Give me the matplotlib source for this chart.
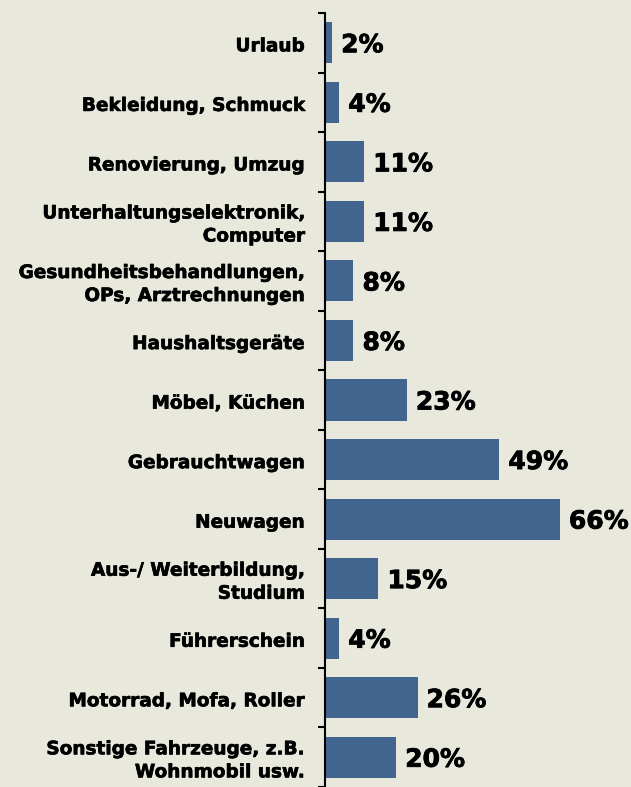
import matplotlib
matplotlib.use("Agg")
import matplotlib.pyplot as plt
import matplotlib.patheffects as pe
import numpy as np

categories = [
    "Urlaub",
    "Bekleidung, Schmuck",
    "Renovierung, Umzug",
    "Unterhaltungselektronik,\nComputer",
    "Gesundheitsbehandlungen,\nOPs, Arztrechnungen",
    "Haushaltsgeräte",
    "Möbel, Küchen",
    "Gebrauchtwagen",
    "Neuwagen",
    "Aus-/ Weiterbildung,\nStudium",
    "Führerschein",
    "Motorrad, Mofa, Roller",
    "Sonstige Fahrzeuge, z.B.\nWohnmobil usw.",
]
values = [2, 4, 11, 11, 8, 8, 23, 49, 66, 15, 4, 26, 20]
value_labels = [f"{v}%" for v in values]

bg = "#e9e8dd"
bar_color = "#42658f"

fig = plt.figure(figsize=(6.31, 7.87), dpi=100, facecolor=bg)
ax = fig.add_axes([325 / 631, 0.0, 1 - 325 / 631, 1 - 13 / 787])
ax.set_facecolor(bg)

y = np.arange(len(categories))
ax.barh(y, values, height=0.69, color=bar_color)
ax.set_ylim(len(categories) - 0.5, -0.5)
ax.set_xlim(0, 86)

heavy_val = [pe.withStroke(linewidth=0.6, foreground="black")]
heavy_cat = [pe.withStroke(linewidth=0.45, foreground="black")]

for yi, v, lab in zip(y, values, value_labels):
    ax.annotate(lab, (v, yi), xytext=(6.5, -1.8), textcoords="offset points",
                ha="left", va="center", fontsize=18, fontweight="bold",
                family="DejaVu Sans", color="black", path_effects=heavy_val)

for yi, cat in zip(y, categories):
    ax.annotate(cat, (0, yi), xycoords=ax.get_yaxis_transform(),
                xytext=(-14.5, -2.6), textcoords="offset points",
                ha="right", va="center", multialignment="right",
                fontsize=13.3, fontweight="bold", family="DejaVu Sans",
                linespacing=1.36, color="black", path_effects=heavy_cat,
                annotation_clip=False)

ax.set_yticks([])
ax.set_yticks(np.arange(-0.5, len(categories) + 0.5, 1), minor=True)
ax.tick_params(axis="y", which="minor", length=5, width=1.5, direction="out")
ax.set_xticks([])

for s in ["top", "right", "bottom"]:
    ax.spines[s].set_visible(False)
ax.spines["left"].set_linewidth(1.5)
ax.spines["left"].set_color("black")

fig.savefig("out.png", dpi=100, facecolor=bg)
